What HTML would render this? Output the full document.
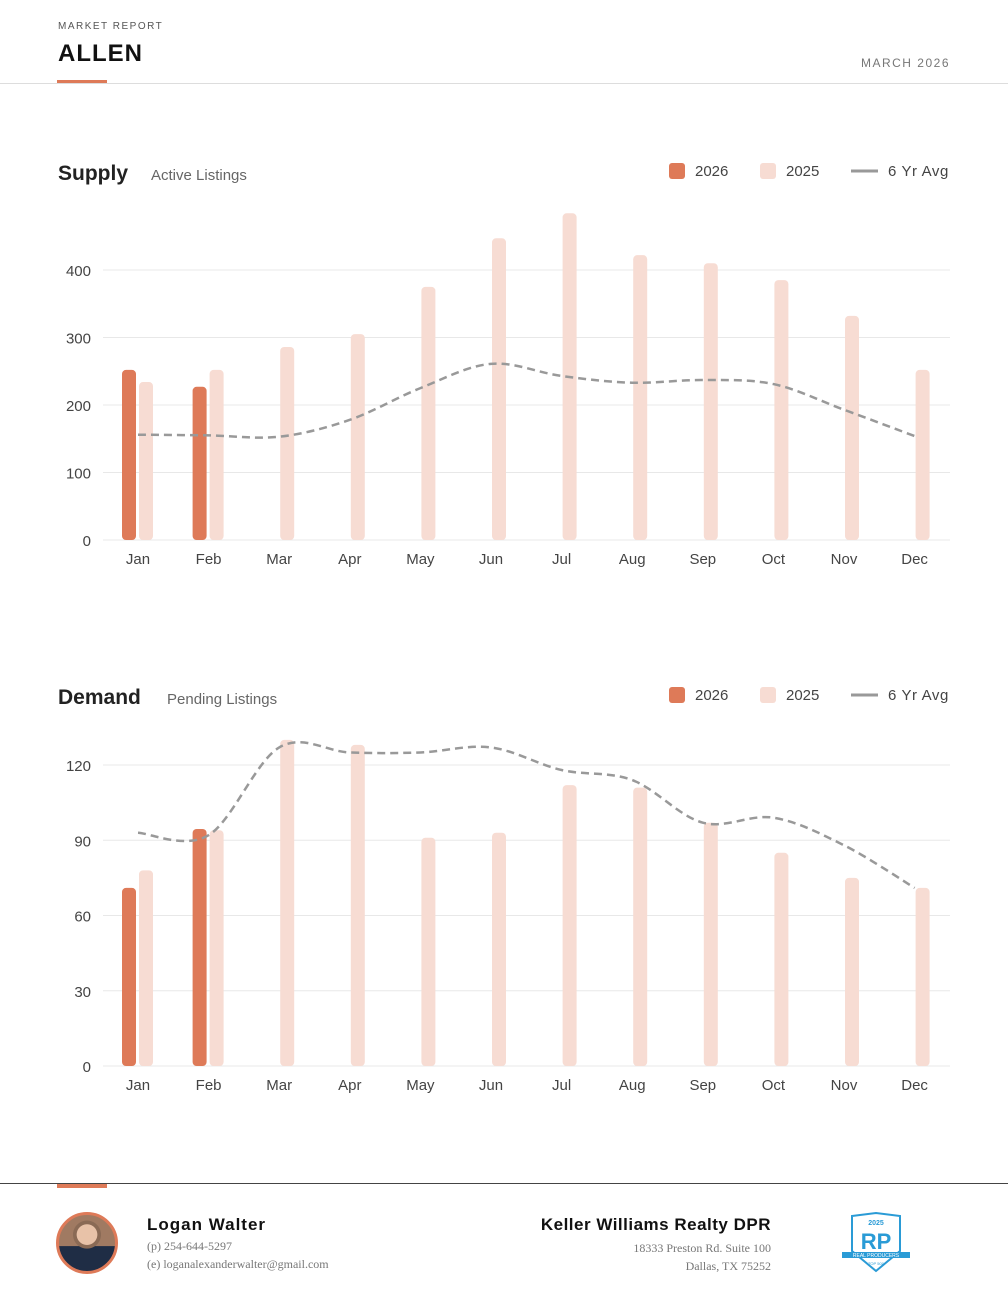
<!DOCTYPE html>
<html><head><meta charset="utf-8">
<style>
body{margin:0;width:1008px;height:1298px;background:#fff;font-family:"Liberation Sans",sans-serif;position:relative;overflow:hidden;color:#222}
.abs{position:absolute}
svg text{font-family:"Liberation Sans",sans-serif}
</style></head><body>
<div class="abs" style="left:58px;top:21px;font-size:10px;letter-spacing:1.5px;color:#555">MARKET REPORT</div>
<div class="abs" style="left:58px;top:40px;font-size:24px;font-weight:bold;letter-spacing:1px;color:#111">ALLEN</div>
<div class="abs" style="left:57px;top:80px;width:50px;height:3px;background:#de7a58"></div>
<div class="abs" style="left:0;top:83px;width:1008px;height:1px;background:#ddd"></div>
<div class="abs" style="right:58px;top:56px;font-size:12px;letter-spacing:1.5px;color:#777">MARCH 2026</div>

<svg id="supply" class="abs" style="left:0;top:140px" width="1008" height="450"></svg>
<svg id="demand" class="abs" style="left:0;top:664px" width="1008" height="450"></svg>

<div class="abs" style="left:0;top:1183px;width:1008px;height:1px;background:#444"></div>
<div class="abs" style="left:57px;top:1184px;width:50px;height:4px;background:#de7a58"></div>
<div class="abs" style="left:56px;top:1212px;width:56px;height:56px;border-radius:50%;border:3px solid #de7a58;background:radial-gradient(circle at 50% 35%,#e8c2a8 0 22%,#8a6a55 23% 30%,transparent 31%),linear-gradient(#a07a62 0 55%,#1f2d45 56%)"></div>
<div class="abs" style="left:147px;top:1215px;font-size:17px;font-weight:bold;letter-spacing:1px;color:#111">Logan Walter</div>
<div class="abs" style="left:147px;top:1239px;font-size:12px;font-family:'Liberation Serif',serif;color:#777">(p) 254-644-5297</div>
<div class="abs" style="left:147px;top:1257px;font-size:12px;font-family:'Liberation Serif',serif;color:#777">(e) loganalexanderwalter@gmail.com</div>
<div class="abs" style="right:237px;top:1215px;font-size:17px;font-weight:bold;letter-spacing:0.5px;color:#111">Keller Williams Realty DPR</div>
<div class="abs" style="right:237px;top:1239px;font-size:12px;font-family:'Liberation Serif',serif;color:#777;text-align:right;line-height:18px">18333 Preston Rd. Suite 100<br>Dallas, TX 75252</div>
<svg class="abs" style="left:838px;top:1211px" width="75" height="64">
<path d="M14 5 L38 2 L62 5 L62 40 L38 60 L14 40 Z" fill="#fff" stroke="#2a9bd6" stroke-width="2"/>
<text x="38" y="14" font-size="7" fill="#2a9bd6" text-anchor="middle" font-weight="bold">2025</text>
<text x="38" y="38" font-size="22" fill="#2a9bd6" text-anchor="middle" font-weight="bold">RP</text>
<rect x="4" y="41" width="68" height="6" fill="#2a9bd6"/>
<text x="38" y="46" font-size="5" fill="#fff" text-anchor="middle">REAL PRODUCERS</text>
<text x="38" y="54" font-size="4" fill="#2a9bd6" text-anchor="middle">TOP 500</text>
</svg>

<script>
const months=["Jan","Feb","Mar","Apr","May","Jun","Jul","Aug","Sep","Oct","Nov","Dec"];
const supply2026=[252,227];
const supply2025=[234,252,286,305,375,447,484,422,410,385,332,252];
const supplyAvg=[156,155,153,178,225,261,243,233,237,231,193,154];
const supplyTicks=[0,100,200,300,400];
const demand2026=[71,94.5];
const demand2025=[78,94,130,128,91,93,112,111,97,85,75,71];
const demandAvg=[93,92,127,125,125,127,118,114,97,99,88,71];
const demandTicks=[0,30,60,90,120];
const NS="http://www.w3.org/2000/svg";
function mk(svg,tag,attrs){const e=document.createElementNS(NS,tag);for(const k in attrs)e.setAttribute(k,attrs[k]);svg.appendChild(e);return e;}
function chart(id,title,sub,subX,ticks,y0,yTop,v26,v25,avg,key){
  const svg=document.getElementById(id);
  const top=ticks[ticks.length-1];
  const ys=v=>y0-(v/top)*(y0-yTop);
  const xs=i=>138+i*70.6;
  let t=mk(svg,'text',{x:58,y:40,'font-size':21,'font-weight':'bold',fill:'#222'});t.textContent=title;
  
  t=mk(svg,'text',{x:subX,y:40,'font-size':15,fill:'#666'});t.textContent=sub;
  
  const leg=[["2026","#de7a58",669,695],["2025","#f7dcd3",760,786]];
  leg.forEach(l=>{const r=mk(svg,'rect',{x:l[2],y:23,width:16,height:16,rx:3,fill:l[1]});
    
    const tt=mk(svg,'text',{x:l[3],y:36,'font-size':15,fill:'#444'});tt.textContent=l[0];
    });
  const ll=mk(svg,'line',{x1:851,x2:878,y1:31,y2:31,stroke:'#999','stroke-width':3});
  
  t=mk(svg,'text',{x:888,y:36,'font-size':15,fill:'#444','letter-spacing':'0.6'});t.textContent="6 Yr Avg";
  
  ticks.forEach(v=>{const g=mk(svg,'line',{x1:103,x2:950,y1:ys(v),y2:ys(v),stroke:'#e8e8e8','stroke-width':1});
    
    const tl=mk(svg,'text',{x:91,y:ys(v)+6,'font-size':15,fill:'#444','text-anchor':'end'});tl.textContent=v;
    });
  months.forEach((m,i)=>{const tl=mk(svg,'text',{x:xs(i),y:y0+24,'font-size':15,fill:'#444','text-anchor':'middle'});tl.textContent=m;
    });
  v25.forEach((v,i)=>{const b=mk(svg,'rect',{x:xs(i)+1,y:ys(v),width:14,height:y0-ys(v),rx:4,fill:'#f7dcd3'});
    });
  v26.forEach((v,i)=>{const b=mk(svg,'rect',{x:xs(i)-16,y:ys(v),width:14,height:y0-ys(v),rx:4,fill:'#de7a58'});
    });
  const p=avg.map((v,i)=>[xs(i),ys(v)]);
  let d='M'+p[0][0]+','+p[0][1];
  for(let i=0;i<p.length-1;i++){const a=p[Math.max(i-1,0)],b=p[i],c=p[i+1],e=p[Math.min(i+2,p.length-1)];
    d+=' C'+(b[0]+(c[0]-a[0])/6)+','+(b[1]+(c[1]-a[1])/6)+' '+(c[0]-(e[0]-b[0])/6)+','+(c[1]-(e[1]-b[1])/6)+' '+c[0]+','+c[1];}
  const pa=mk(svg,'path',{d:d,fill:'none',stroke:'#999','stroke-width':2.5,'stroke-dasharray':'8 5'});
  
}
chart('supply','Supply','Active Listings',151,supplyTicks,400,130,supply2026,supply2025,supplyAvg,'supply');
chart('demand','Demand','Pending Listings',167,demandTicks,402,101,demand2026,demand2025,demandAvg,'demand');
</script>
</body></html>
